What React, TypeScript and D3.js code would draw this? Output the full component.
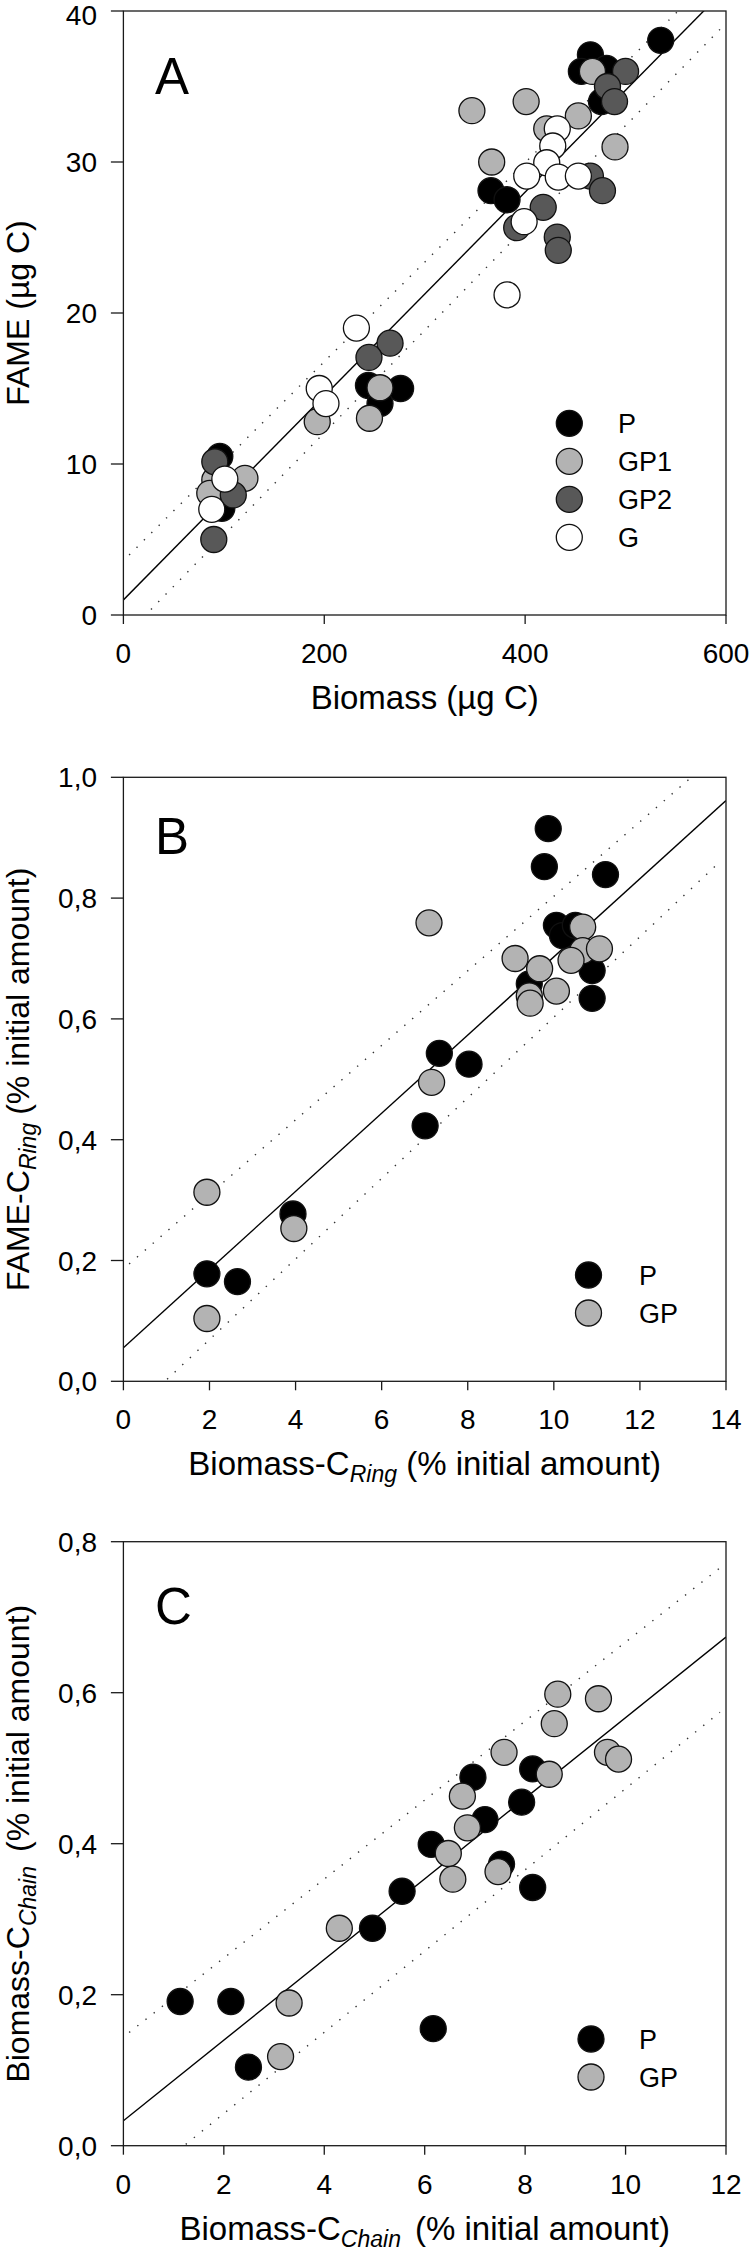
import React from 'react';
import * as d3 from 'd3';

// ---------- Panel A : FAME vs Biomass (µg C) ----------
const aXTicks = [0, 200, 400, 600];
const aYTicks = [0, 10, 20, 30, 40];
const aP: number[][] = [
  [535, 38.06], [465, 37.1], [456, 36], [481, 36.2], [476, 34], [366, 28.1],
  [382, 27.5], [244, 15.2], [276, 15], [255.5, 14], [96, 10.5], [98, 7.07],
];
const aGP1: number[][] = [
  [467, 36], [401, 34], [347, 33.4], [453, 33.05], [421.5, 32.2], [489.5, 31],
  [366.7, 30], [255.5, 15.05], [245, 13.03], [193, 12.8], [91, 8.94], [121, 9.05], [86, 8.06],
];
const aGP2: number[][] = [
  [500, 36], [482, 35], [489, 34], [465, 29.07], [477, 28.1], [418, 27], [391.6, 25.65],
  [432, 25.03], [433, 24.15], [265.5, 18], [244.5, 17.06], [91, 10.15], [109.4, 7.95], [90, 5],
];
const aG: number[][] = [
  [432, 32.2], [427.5, 31.06], [421.5, 29.95], [401.6, 29.07], [433, 29], [453, 29.07],
  [399, 26.05], [382, 21.2], [232, 19], [195, 15], [201.7, 14], [101, 9], [88, 7],
];
const aFit = [1.0, 0.0675]; // intercept, slope
const aUpper = [3.6, 0.0659];
const aLower = [-1.49, 0.0678];

// ---------- Panel B : FAME-C Ring vs Biomass-C Ring ----------
const bXTicks = [0, 2, 4, 6, 8, 10, 12, 14];
const bYTicks = [0, 0.2, 0.4, 0.6, 0.8, 1.0];
const bP: number[][] = [
  [9.87, 0.915], [9.78, 0.852], [11.2, 0.839], [10.06, 0.755], [10.2, 0.738], [10.5, 0.755],
  [10.89, 0.68], [9.43, 0.658], [10.89, 0.634], [7.34, 0.543], [8.03, 0.525], [7.01, 0.423],
  [3.94, 0.277], [1.94, 0.178], [2.65, 0.165],
];
const bGP: number[][] = [
  [7.1, 0.759], [10.67, 0.752], [10.67, 0.713], [11.06, 0.716], [10.4, 0.697], [9.1, 0.70],
  [9.67, 0.683], [10.06, 0.646], [9.43, 0.638], [9.45, 0.626], [7.16, 0.495], [1.94, 0.313],
  [3.96, 0.253], [1.94, 0.104],
];
const bFit = [0.0556, 0.0647];
const bUpper = [0.186, 0.0617];
const bLower = [-0.0643, 0.0667];

// ---------- Panel C : Biomass-C Chain vs Biomass-C Chain ----------
const cXTicks = [0, 2, 4, 6, 8, 10, 12];
const cYTicks = [0, 0.2, 0.4, 0.6, 0.8];
const cP: number[][] = [
  [1.13, 0.191], [2.14, 0.191], [2.49, 0.104], [4.96, 0.288], [5.55, 0.337], [6.13, 0.399],
  [6.17, 0.155], [6.96, 0.488], [7.2, 0.432], [7.53, 0.373], [7.93, 0.455], [8.15, 0.499], [8.15, 0.342],
];
const cGP: number[][] = [
  [3.13, 0.118], [3.3, 0.189], [4.3, 0.288], [6.47, 0.387], [6.56, 0.353], [6.75, 0.463],
  [6.85, 0.421], [7.46, 0.363], [7.58, 0.521], [8.48, 0.492], [8.58, 0.559], [8.65, 0.598],
  [9.46, 0.592], [9.64, 0.521], [9.86, 0.512],
];
const cFit = [0.033, 0.0534];
const cUpper = [0.144, 0.0523];
const cLower = [-0.065, 0.0538];

const FILL: Record<string, string> = { P: '#000000', GP1: '#b3b3b3', GP2: '#585858', G: '#ffffff', GP: '#b3b3b3' };
const FONT = 'Liberation Sans, Arial, Helvetica, sans-serif';
const INK = '#1a1a1a';

const LEFT = 123.4;
const RIGHT = 726;
const PH = 604;

type Series = { name: string; pts: number[][] };

function Panel(props: {
  id: string; top: number; xMax: number; yMax: number; xTicks: number[]; yTicks: number[];
  fmtY: (v: number) => string; series: Series[]; fit: number[]; upper: number[]; lower: number[];
  letter: string; letterDy: number; xLabel: React.ReactNode; yLabel: React.ReactNode;
  legX: number; legTextX: number; legDy: number;
}) {
  const { top, xMax, yMax } = props;
  const bottom = top + PH;
  const x = d3.scaleLinear().domain([0, xMax]).range([LEFT, RIGHT]);
  const y = d3.scaleLinear().domain([0, yMax]).range([bottom, top]);
  const seg = (p: number[], x0: number, x1: number) =>
    d3.line<number>().x((v) => x(v)).y((v) => y(p[0] + p[1] * v))([x0, x1]) || '';
  const clipId = 'clip-' + props.id;
  return (
    <g>
      <defs>
        <clipPath id={clipId}>
          <rect x={LEFT} y={top} width={RIGHT - LEFT} height={PH} />
        </clipPath>
      </defs>
      <g clipPath={`url(#${clipId})`}>
        <path d={seg(props.upper, xMax * 0.0095, xMax * 0.99)} fill="none" stroke="#333" strokeWidth={1.4}
          strokeDasharray="1.4 9" />
        <path d={seg(props.lower, xMax * 0.0095, xMax * 0.99)} fill="none" stroke="#333" strokeWidth={1.4}
          strokeDasharray="1.4 9" />
        <path d={seg(props.fit, 0, xMax)} fill="none" stroke="#000" strokeWidth={1.4} />
      </g>
      {props.series.map((s) => (
        <g key={s.name}>
          {s.pts.map((p, i) => (
            <circle key={i} cx={x(p[0])} cy={y(p[1])} r={13} fill={FILL[s.name]} stroke="#111" strokeWidth={1.3} />
          ))}
        </g>
      ))}
      {/* frame */}
      <rect x={LEFT} y={top} width={RIGHT - LEFT} height={PH} fill="none" stroke={INK} strokeWidth={1.3} />
      {props.yTicks.map((t) => (
        <g key={'y' + t}>
          <line x1={LEFT - 12.5} x2={LEFT} y1={y(t)} y2={y(t)} stroke={INK} strokeWidth={1.3} />
          <text x={97} y={Math.max(y(t) + 10, 25)} textAnchor="end" fontSize={28} fontFamily={FONT} fill="#000">
            {props.fmtY(t)}
          </text>
        </g>
      ))}
      {props.xTicks.map((t) => (
        <g key={'x' + t}>
          <line x1={x(t)} x2={x(t)} y1={bottom} y2={bottom + 9} stroke={INK} strokeWidth={1.3} />
          <text x={x(t)} y={bottom + 48} textAnchor="middle" fontSize={28} fontFamily={FONT} fill="#000">
            {String(t)}
          </text>
        </g>
      ))}
      <text x={155} y={top + props.letterDy} fontSize={51} fontFamily={FONT} fill="#000">{props.letter}</text>
      <text x={(LEFT + RIGHT) / 2} y={bottom + 94} textAnchor="middle" fontSize={33} fontFamily={FONT} fill="#000">
        {props.xLabel}
      </text>
      <text transform={`translate(29,${(top + bottom) / 2}) rotate(-90)`} textAnchor="middle" fontSize={32}
        fontFamily={FONT} fill="#000">
        {props.yLabel}
      </text>
      {props.series.map((s, i) => (
        <g key={'leg' + s.name}>
          <circle cx={props.legX} cy={top + props.legDy + i * 38} r={13} fill={FILL[s.name]} stroke="#111" strokeWidth={1.3} />
          <text x={props.legTextX} y={top + props.legDy + i * 38 + 10} fontSize={27} fontFamily={FONT} fill="#000">
            {s.name}
          </text>
        </g>
      ))}
    </g>
  );
}

const comma = (v: number) => d3.format('.1f')(v).replace('.', ',');

export default function App() {
  return (
    <svg width={750} height={2251} viewBox="0 0 750 2251"
      style={{ position: 'absolute', left: 0, top: 0, background: '#fff', display: 'block' }}>
      <rect x={0} y={0} width={750} height={2251} fill="#fff" />
      <Panel id="A" top={11} xMax={600} yMax={40} xTicks={aXTicks} yTicks={aYTicks} fmtY={(v) => String(v)}
        series={[{ name: 'P', pts: aP }, { name: 'GP1', pts: aGP1 }, { name: 'GP2', pts: aGP2 }, { name: 'G', pts: aG }]}
        fit={aFit} upper={aUpper} lower={aLower} letter="A" letterDy={83}
        xLabel={<tspan>Biomass (µg C)</tspan>} yLabel={<tspan>FAME (µg C)</tspan>}
        legX={569.3} legTextX={618} legDy={412.3} />
      <Panel id="B" top={777.3} xMax={14} yMax={1} xTicks={bXTicks} yTicks={bYTicks} fmtY={comma}
        series={[{ name: 'P', pts: bP }, { name: 'GP', pts: bGP }]}
        fit={bFit} upper={bUpper} lower={bLower} letter="B" letterDy={77}
        xLabel={<><tspan>Biomass-C</tspan><tspan fontStyle="italic" fontSize={23} dy={7}>Ring</tspan><tspan dy={-7}> (% initial amount)</tspan></>}
        yLabel={<><tspan>FAME-C</tspan><tspan fontStyle="italic" fontSize={23} dy={7}>Ring</tspan><tspan dy={-7} dx={8}>(% initial amount)</tspan></>}
        legX={588.5} legTextX={639} legDy={497.7} />
      <Panel id="C" top={1541.7} xMax={12} yMax={0.8} xTicks={cXTicks} yTicks={cYTicks} fmtY={comma}
        series={[{ name: 'P', pts: cP }, { name: 'GP', pts: cGP }]}
        fit={cFit} upper={cUpper} lower={cLower} letter="C" letterDy={82}
        xLabel={<><tspan>Biomass-C</tspan><tspan fontStyle="italic" fontSize={23} dy={7}>Chain</tspan><tspan dy={-7} dx={14}>(% initial amount)</tspan></>}
        yLabel={<><tspan>Biomass-C</tspan><tspan fontStyle="italic" fontSize={23} dy={7}>Chain</tspan><tspan dy={-7} dx={14}>(% initial amount)</tspan></>}
        legX={591} legTextX={639} legDy={497.3} />
    </svg>
  );
}
